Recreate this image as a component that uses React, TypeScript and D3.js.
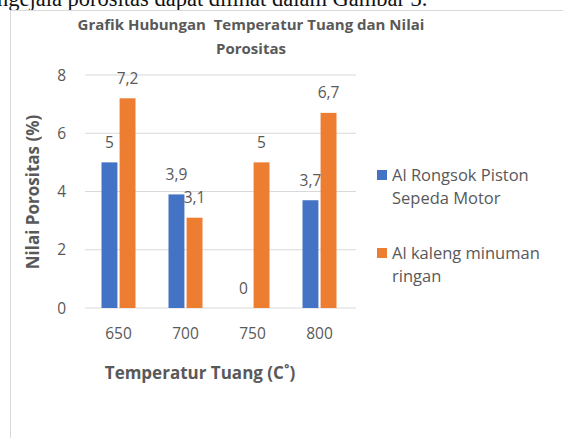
import React from 'react';
import * as d3 from 'd3';

const categories = ['650', '700', '750', '800'];
const seriesNames = ['Al Rongsok Piston Sepeda Motor', 'Al kaleng minuman ringan'];
const pistonValues = [5, 3.9, 0, 3.7];
const kalengValues = [7.2, 3.1, 5, 6.7];
const yTicks = [0, 2, 4, 6, 8];
const legendLines = [['Al Rongsok Piston', 'Sepeda Motor'], ['Al kaleng minuman', 'ringan']];

const W = 563;
const H = 438;
const colors = ['#4472C4', '#ED7D31'];
const textColor = '#595959';
const font = '"Open Sans", sans-serif';

export default function App() {
  const x0 = d3.scaleBand<string>().domain(categories).range([85, 353]).padding(0);
  const x1 = d3.scaleBand<string>().domain(seriesNames).range([0, 34]).paddingInner(0.12);
  const y = d3.scaleLinear().domain([0, 8]).range([308, 75]);
  const series = [pistonValues, kalengValues];
  const fmt = (v: number) => String(v).replace('.', ',');

  return (
    <svg width={W} height={H} style={{ position: 'absolute', left: 0, top: 0, background: '#fff' }}>
      {/* cut-off line of the surrounding document */}
      <text x={-3} y={6} fontFamily='"Liberation Serif", serif' fontSize={22.5} fill="#111">
        ngejala porositas dapat dilihat dalam Gambar 3.
      </text>
      <rect x={10.5} y={10.5} width={W} height={H} fill="#fff" stroke="#d9d9d9" />

      <g fontFamily={font} fill={textColor} fontWeight={700} fontSize={15} textAnchor="middle">
        <text x={251} y={30} style={{ whiteSpace: 'pre' }}>Grafik Hubungan  Temperatur Tuang dan Nilai</text>
        <text x={251} y={54}>Porositas</text>
      </g>

      {yTicks.map((t) => (
        <g key={t}>
          <line x1={85} x2={356} y1={y(t)} y2={y(t)} stroke="#d9d9d9" />
          <text x={66} y={y(t) + 5.5} textAnchor="end" fontFamily={font} fontSize={15.5} fill={textColor}>
            {t}
          </text>
        </g>
      ))}

      {categories.map((c, i) => (
        <g key={c} transform={`translate(${x0(c)! + x0.bandwidth() / 2 - 17},0)`}>
          {series.map((vals, s) => {
            const bx = x1(seriesNames[s])!;
            const v = vals[i];
            return (
              <g key={s}>
                {v > 0 && (
                  <rect x={bx} y={y(v)} width={x1.bandwidth()} height={y(0) - y(v)} fill={colors[s]} />
                )}
                <text
                  x={bx + x1.bandwidth() / 2}
                  y={y(v) - 14.5}
                  textAnchor="middle"
                  fontFamily={font}
                  fontSize={15.5}
                  fill={textColor}
                >
                  {fmt(v)}
                </text>
              </g>
            );
          })}
        </g>
      ))}

      {categories.map((c) => (
        <text
          key={c}
          x={x0(c)! + x0.bandwidth() / 2}
          y={339}
          textAnchor="middle"
          fontFamily={font}
          fontSize={15.5}
          fill={textColor}
        >
          {c}
        </text>
      ))}

      <text
        transform="translate(39,192) rotate(-90)"
        textAnchor="middle"
        fontFamily={font}
        fontSize={17}
        fontWeight={700}
        fill={textColor}
      >
        Nilai Porositas (%)
      </text>
      <text x={200} y={379} textAnchor="middle" fontFamily={font} fontSize={17} fontWeight={700} fill={textColor}>
        Temperatur Tuang (C˚)
      </text>

      {legendLines.map((lines, s) => {
        const top = 170 + s * 78;
        return (
          <g key={s}>
            <rect x={377} y={top} width={10} height={10} fill={colors[s]} />
            {lines.map((ln, k) => (
              <text key={k} x={392} y={top + 11 + k * 23} fontFamily={font} fontSize={16.5} fill={textColor}>
                {ln}
              </text>
            ))}
          </g>
        );
      })}
    </svg>
  );
}
